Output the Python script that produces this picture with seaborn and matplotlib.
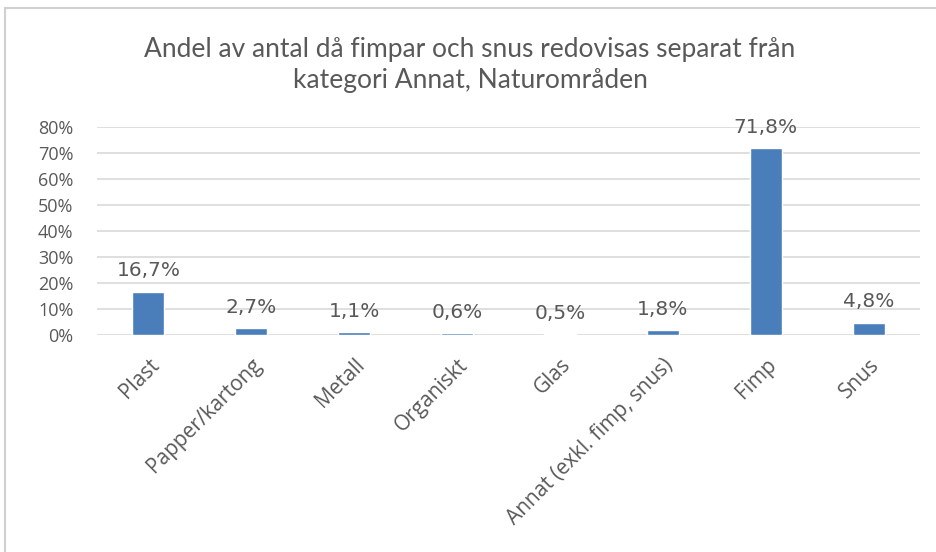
import matplotlib
matplotlib.use("Agg")
import matplotlib.pyplot as plt
import seaborn as sns
import pandas as pd
from matplotlib.patches import Rectangle

categories = ["Plast", "Papper/kartong", "Metall", "Organiskt", "Glas",
              "Annat (exkl. fimp, snus)", "Fimp", "Snus"]
shares = [16.7, 2.7, 1.1, 0.6, 0.5, 1.8, 71.8, 4.8]
y_ticks = [0, 10, 20, 30, 40, 50, 60, 70, 80]
title = "Andel av antal då fimpar och snus redovisas separat från\nkategori Annat, Naturområden"

df = pd.DataFrame({"kategori": categories, "andel": shares})

sns.set_style("white")
plt.rcParams['font.family'] = ['Open Sans', 'DejaVu Sans']

text_color = "#595959"
bar_color = "#4a7ebb"

fig = plt.figure(figsize=(9.36, 5.52), dpi=100)
ax = fig.add_axes([97 / 936, 1 - 335 / 552, (920 - 97) / 936, (335 - 127) / 552])

sns.barplot(data=df, x="kategori", y="andel", color=bar_color, width=0.31,
            saturation=1, ax=ax, zorder=3)

ax.set_ylim(0, 80)
ax.set_yticks(y_ticks)
ax.set_yticklabels([f"{t}%" for t in y_ticks])
ax.grid(axis='y', color="#d9d9d9", linewidth=1.2, zorder=0)
ax.set_xlabel("")
ax.set_ylabel("")
for s in ax.spines.values():
    s.set_visible(False)
ax.tick_params(axis='both', length=0, colors=text_color)
ax.tick_params(axis='y', pad=17, labelsize=13)
ax.tick_params(axis='x', pad=14, labelsize=15)
for lab in ax.get_xticklabels():
    lab.set_rotation(45)
    lab.set_ha('right')
    lab.set_rotation_mode('anchor')

# dataetiketter ovanför staplarna
for i, v in enumerate(shares):
    ax.annotate(f"{v:.1f}%".replace(".", ","), (i, v), xytext=(0, 8),
                textcoords="offset points", ha='center', va='bottom',
                fontsize=14.5, color=text_color, family='DejaVu Sans')

fig.text(470 / 936, 1 - 65 / 552, title, ha='center', va='center',
         fontsize=19, color=text_color, family=['Lato', 'DejaVu Sans'],
         linespacing=1.3)

fig.patches.append(Rectangle((5 / 936, -0.1), 1.2, 1 - 8 / 552 + 0.1,
                             transform=fig.transFigure, fill=False,
                             edgecolor="#d0d0d0", linewidth=1.5))

fig.savefig("out.png", dpi=100)
